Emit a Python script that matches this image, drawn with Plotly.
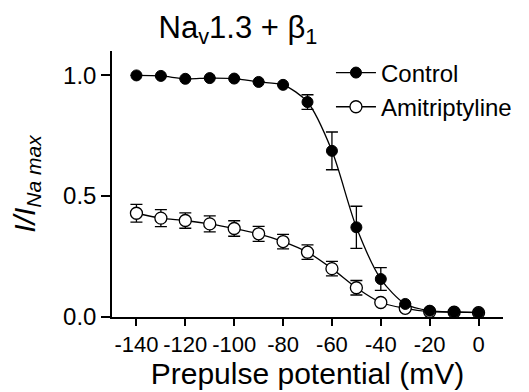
import plotly.graph_objects as go

prepulse_mv = [-140, -130, -120, -110, -100, -90, -80, -70, -60, -50, -40, -30, -20, -10, 0]

control_mean = [0.999, 0.997, 0.985, 0.988, 0.986, 0.972, 0.960, 0.889, 0.687, 0.371, 0.157, 0.054, 0.026, 0.021, 0.019]
control_err = [0.0, 0.0, 0.0, 0.0, 0.0, 0.0, 0.0, 0.030, 0.078, 0.087, 0.047, 0.0, 0.0, 0.0, 0.0]

amitrip_mean = [0.429, 0.409, 0.399, 0.385, 0.366, 0.344, 0.312, 0.268, 0.200, 0.121, 0.060, 0.036, 0.022, 0.020, 0.018]
amitrip_err = [0.037, 0.035, 0.032, 0.033, 0.032, 0.031, 0.030, 0.030, 0.030, 0.030, 0.0, 0.0, 0.0, 0.0, 0.0]

x_ticks = [-140, -120, -100, -80, -60, -40, -20, 0]
x_tick_text = ["-140", "-120", "-100", "-80", "-60", "-40", "-20", "0"]
y_ticks = [0.0, 0.5, 1.0]
y_tick_text = ["0.0", "0.5", "1.0"]

FONT = "Arial, Liberation Sans, sans-serif"

# page body has an 8px default margin; figure is sized to fit the 529x392 window
W, H = 521, 384

fig = go.Figure()

fig.add_trace(go.Scatter(
    x=prepulse_mv, y=amitrip_mean, name="Amitriptyline",
    mode="lines+markers",
    line=dict(color="black", width=1.3, shape="spline", smoothing=0.8),
    marker=dict(size=12, color="white", line=dict(color="black", width=1.3)),
    error_y=dict(type="data", array=amitrip_err, visible=True, color="black", thickness=1.3, width=6),
))
fig.add_trace(go.Scatter(
    x=prepulse_mv, y=control_mean, name="Control",
    mode="lines+markers",
    line=dict(color="black", width=1.3, shape="spline", smoothing=0.8),
    marker=dict(size=11, color="black", line=dict(color="black", width=1)),
    error_y=dict(type="data", array=control_err, visible=True, color="black", thickness=1.3, width=6),
))

fig.update_layout(
    width=W, height=H,
    margin=dict(l=104, r=20, t=43, b=75),
    paper_bgcolor="white", plot_bgcolor="white",
    font=dict(family=FONT, color="black", size=22),
    title=dict(text="Na<sub>v</sub>1.3 + β<sub>1</sub>", x=230 / W, xanchor="center",
               y=1 - 19 / H, yanchor="middle", font=dict(size=31, family=FONT)),
    showlegend=True,
    legend=dict(x=0.56, y=1.002, xanchor="left", yanchor="top", bgcolor="rgba(0,0,0,0)",
                font=dict(size=24, family=FONT), traceorder="reversed", itemwidth=40,
                tracegroupgap=4),
)

fig.update_xaxes(
    range=[-150, 10], tickvals=x_ticks, ticktext=x_tick_text, tickangle=0, automargin=False,
    showline=True, linecolor="black", linewidth=1.5,
    ticks="outside", ticklen=7, tickwidth=1.5, tickcolor="black", showgrid=False, zeroline=False,
    tickfont=dict(size=22), title=dict(text="Prepulse potential (mV)", font=dict(size=30), standoff=6),
)
fig.update_yaxes(
    range=[0, 1.1], tickvals=y_ticks, ticktext=y_tick_text, automargin=False, showline=True,
    linecolor="black", linewidth=1.5, ticks="outside", ticklen=9, tickwidth=1.5, tickcolor="black",
    showgrid=False, zeroline=False, tickfont=dict(size=24),
    title=dict(text="<i>I/I<sub>Na max</sub></i>", font=dict(size=30), standoff=25),
)

fig.write_html("out.html")
